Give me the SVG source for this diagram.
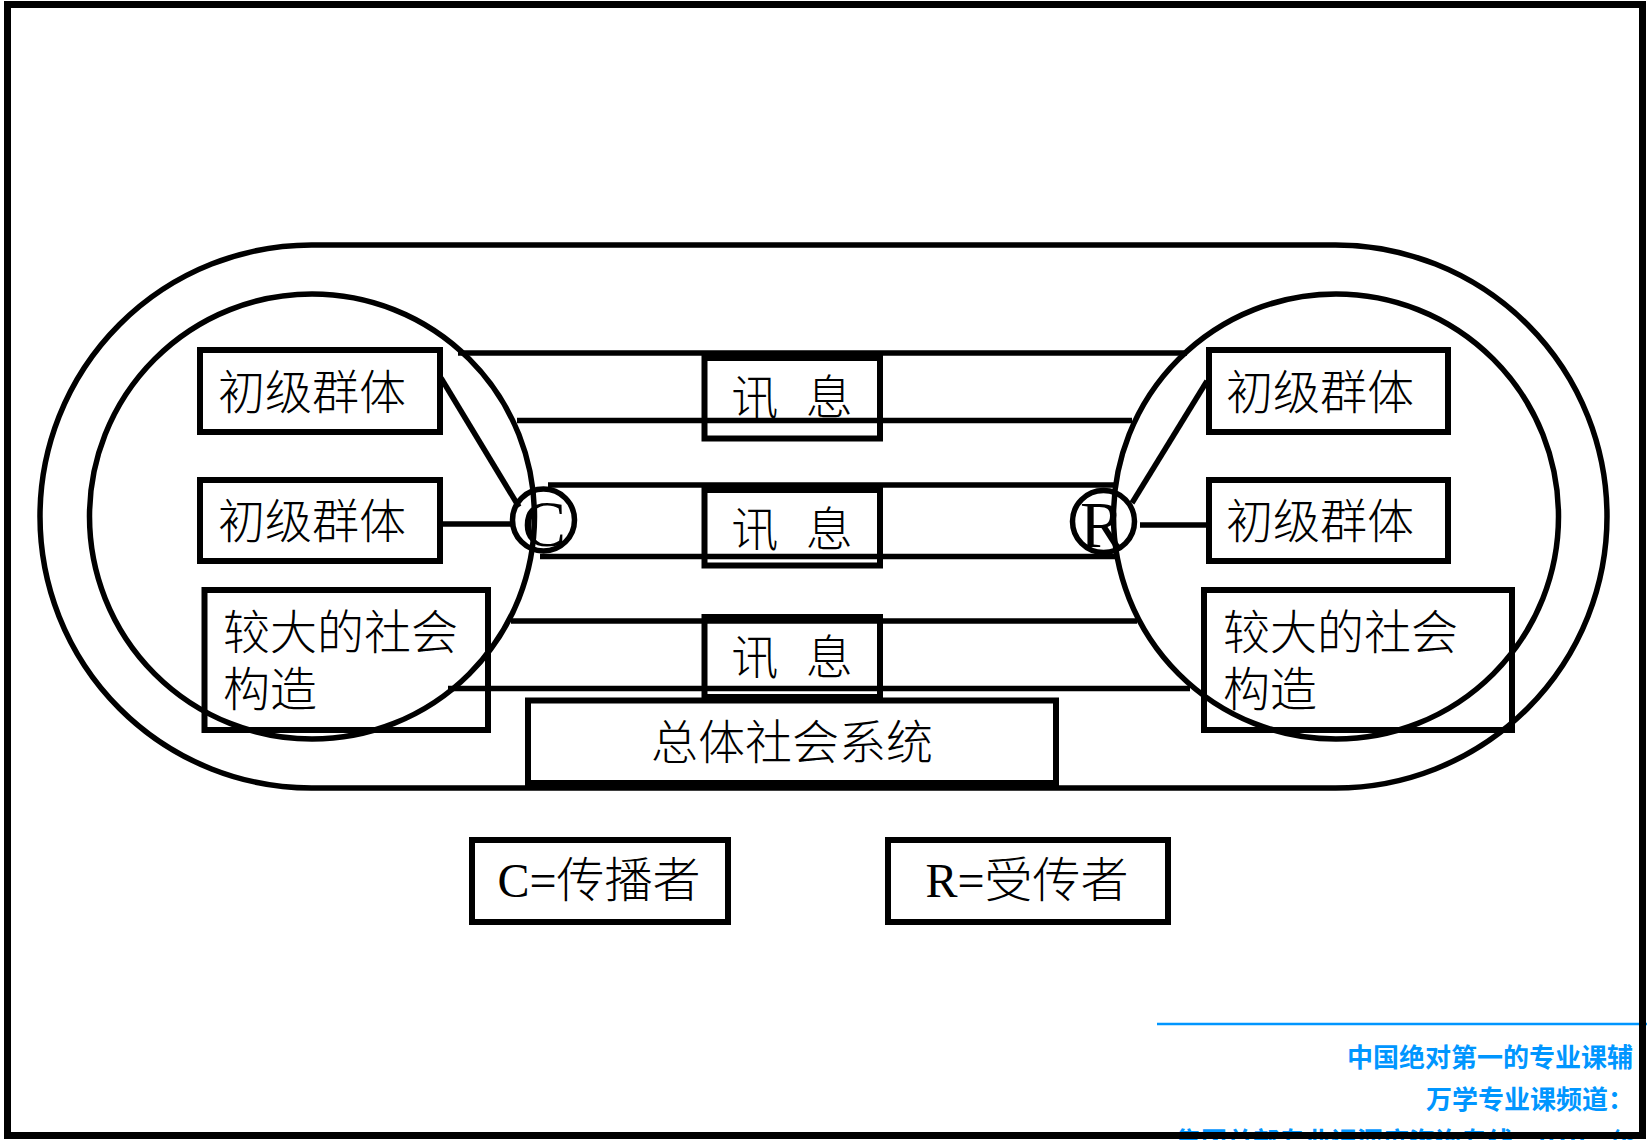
<svg xmlns="http://www.w3.org/2000/svg" width="1647" height="1140" viewBox="0 0 1647 1140">
<style>
.ln{stroke:#000;stroke-width:5.5;fill:none}
.bx{stroke:#000;stroke-width:6;fill:none}
.cr{stroke:#000;stroke-width:5.5;fill:none}
.cj{font-family:"Liberation Serif","Noto Sans CJK SC",serif;font-size:47px;font-weight:300;fill:#000}
.lt{font-family:"Liberation Serif","Noto Sans CJK SC",serif;font-size:66px;fill:#000;text-anchor:middle}
.lg{font-family:"Liberation Serif","Noto Sans CJK SC",serif;font-size:48px;font-weight:300;fill:#000;text-anchor:middle}
.wm{font-family:"Noto Sans CJK SC","Liberation Sans",sans-serif;font-size:26px;font-weight:bold;fill:#0096FF}
</style>
<rect width="1647" height="1140" fill="#fff"/>
<g id="system">
<rect class="ln" x="40" y="245" width="1567" height="543" rx="271.5" ry="271.5"/>
</g>
<g id="c-sphere"><circle class="cr" cx="312" cy="516.5" r="222.5"/></g>
<g id="r-sphere"><circle class="cr" cx="1336" cy="516.5" r="222.5"/></g>
<g id="connectors">
<line class="ln" x1="458" y1="353" x2="1187" y2="353"/>
<line class="ln" x1="517" y1="420.5" x2="1132" y2="420.5"/>
<line class="ln" x1="548" y1="485" x2="1114" y2="485"/>
<line class="ln" x1="540" y1="556.5" x2="1117" y2="556.5"/>
<line class="ln" x1="511" y1="621" x2="1137" y2="621"/>
<line class="ln" x1="448" y1="688.5" x2="1190" y2="688.5"/>
<line class="ln" x1="441" y1="378" x2="519" y2="507"/>
<line class="ln" x1="443" y1="524" x2="512" y2="524"/>
<line class="ln" x1="1132" y1="503" x2="1207" y2="381"/>
<line class="ln" x1="1140" y1="525" x2="1206" y2="525"/>
</g>
<g id="c-node">
<circle class="cr" cx="543.5" cy="520" r="31"/>
<text class="lt" x="544" y="546">C</text>
</g>
<g id="r-node">
<circle class="cr" cx="1103.5" cy="521.5" r="31"/>
<text class="lt" x="1102" y="547">R</text>
</g>
<g id="lg1"><rect class="bx" x="200" y="350" width="240" height="82"/><text class="cj" x="218" y="409">初级群体</text></g>
<g id="lg2"><rect class="bx" x="200" y="480" width="240" height="81"/><text class="cj" x="218" y="538">初级群体</text></g>
<g id="ls"><rect class="bx" x="204.5" y="590" width="283.5" height="140"/><text class="cj" x="223" y="649">较大的社会</text><text class="cj" x="223" y="706">构造</text></g>
<g id="rg1"><rect class="bx" x="1209" y="350" width="239" height="82"/><text class="cj" x="1226" y="409">初级群体</text></g>
<g id="rg2"><rect class="bx" x="1209" y="480" width="239" height="81"/><text class="cj" x="1226" y="538">初级群体</text></g>
<g id="rs"><rect class="bx" x="1204" y="590" width="308" height="140"/><text class="cj" x="1223" y="649">较大的社会</text><text class="cj" x="1223" y="706">构造</text></g>
<g id="msg1"><rect class="bx" x="704.5" y="358" width="175.5" height="80.5"/><text class="cj" x="792" y="414" text-anchor="middle" font-size="45" word-spacing="16" xml:space="preserve">讯 息</text></g>
<g id="msg2"><rect class="bx" x="704.5" y="490" width="175.5" height="75.5"/><text class="cj" x="792" y="546" text-anchor="middle" font-size="45" word-spacing="16" xml:space="preserve">讯 息</text></g>
<g id="msg3"><rect class="bx" x="704.5" y="617" width="175.5" height="80"/><text class="cj" x="792" y="674" text-anchor="middle" font-size="45" word-spacing="16" xml:space="preserve">讯 息</text></g>
<g id="total"><rect class="bx" x="528" y="700.5" width="528" height="82.5"/><text class="cj" x="792" y="759" text-anchor="middle">总体社会系统</text></g>
<g id="legend-c"><rect class="bx" x="472" y="840" width="256" height="82" stroke-width="7"/><text class="lg" x="599" y="897">C=传播者</text></g>
<g id="legend-r"><rect class="bx" x="888" y="840" width="280" height="82" stroke-width="7"/><text class="lg" x="1027" y="897">R=受传者</text></g>
<g id="watermark">
<line x1="1157" y1="1024" x2="1647" y2="1024" stroke="#0096FF" stroke-width="2.5"/>
<text class="wm" x="1347" y="1067">中国绝对第一的专业课辅</text>
<text class="wm" x="1426" y="1109">万学专业课频道：</text>
<text class="wm" x="1175" y="1151">集团总部专业课深度咨询专线：010－(6</text>
</g>
<rect id="frame" x="7.5" y="4.5" width="1635" height="1131" fill="none" stroke="#000" stroke-width="7"/>
</svg>
